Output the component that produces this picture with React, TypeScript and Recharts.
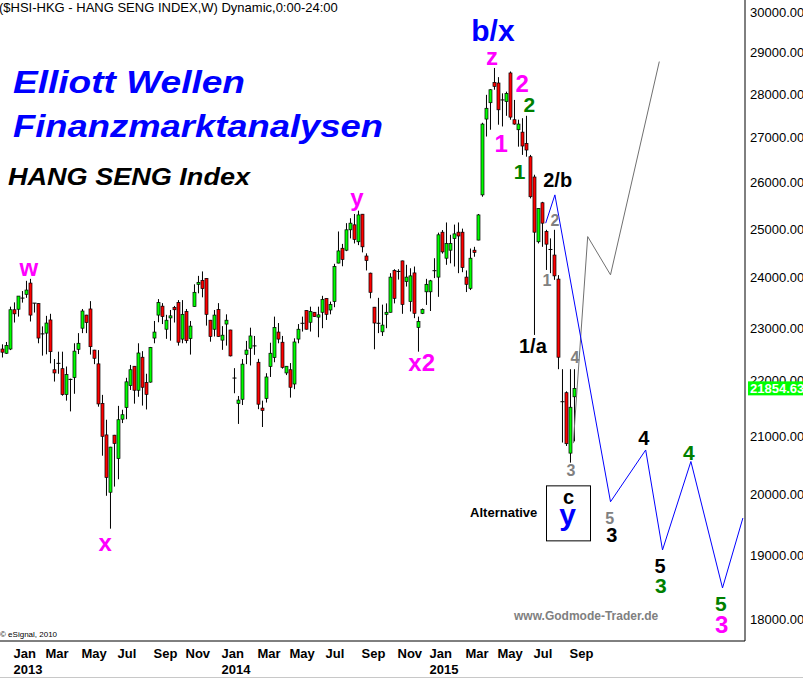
import React from "react";
import { Bar, ComposedChart, Line, ReferenceDot, XAxis, YAxis } from "recharts";

const FONT = "'Liberation Sans', Arial, Helvetica, sans-serif";

// weekly candles, Dec 2012 .. Sep 2015
const opens = [
  22590, 22510, 22590, 23350, 23360, 23580, 23655, 23880, 23480, 23470, 22880, 22895, 23150, 22200, 22320, 22220,
  21740, 22020, 22055, 22585, 22990, 23245, 23365, 22570, 22310, 21580, 21015, 20025, 21010, 20600, 21295, 21505,
  21905, 22265, 21820, 22435, 21960, 21970, 22800, 23245, 23420, 22970, 23190, 23395, 23495, 22780, 23315, 22790,
  23415, 23855, 23935, 23975, 23145, 22970, 23355, 22760, 23070, 22955, 22045, 21580, 21655, 22490, 22605, 22650,
  22340, 21495, 21670, 22260, 22430, 22915, 22720, 22140, 22200, 21935, 22780, 23085, 23335, 23105, 23300, 23205,
  23300, 23575, 23345, 23510, 24285, 24590, 24550, 24975, 25080, 24725, 25305, 24430, 24080, 23400, 23085, 22920,
  23260, 23300, 24135, 24115, 24330, 23910, 23510, 24085, 23005, 23280, 23705, 23705, 24130, 24000, 24925, 24385,
  24550, 24790, 24925, 24925, 24000, 23775, 24550, 24760, 25720, 27415, 27795, 28275, 28260, 27860, 27820, 28500,
  27400, 27170, 27115, 26860, 26560, 26110, 24725, 25550, 24940, 24565, 24450, 23960, 21610, 21775, 20695, 21700,
];
const highs = [
  22680, 22725, 23410, 23495, 23620, 23720, 23925, 23965, 23480, 23480, 23025, 23230, 23270, 22400, 22540, 22540,
  22260, 22035, 22700, 22895, 23365, 23250, 23520, 22575, 22570, 21735, 21285, 20805, 21015, 21535, 21465, 22050,
  22290, 22270, 22700, 22550, 22125, 22630, 23130, 23560, 23480, 23250, 23345, 23425, 23540, 23540, 23365, 23130,
  23855, 24025, 24115, 23980, 23150, 23345, 23480, 23030, 23260, 22960, 22230, 21715, 22400, 22745, 23000, 22840,
  22405, 21630, 22135, 22710, 23215, 23090, 22840, 22270, 22325, 22795, 23070, 23215, 23340, 23410, 23305, 23410,
  23625, 23580, 23510, 24270, 24940, 24680, 25115, 25220, 25310, 25380, 25310, 24485, 24090, 23405, 23585, 23450,
  23475, 24080, 24160, 24160, 24335, 24250, 24180, 24215, 23215, 23375, 23965, 23945, 24385, 24915, 24970, 25130,
  24870, 25085, 25130, 25000, 24135, 24585, 24620, 25310, 27330, 27980, 28115, 28620, 28400, 28015, 28055, 28535,
  27860, 27400, 27435, 27490, 26600, 26160, 25435, 25570, 24975, 24795, 24975, 24040, 22210, 21800, 22210, 22210,
];
const lows = [
  22430, 22500, 22570, 23100, 23215, 23490, 23585, 23120, 23295, 22700, 22465, 22490, 22320, 21980, 22125, 21720,
  21630, 21435, 21755, 22495, 22895, 22895, 22485, 22305, 21520, 20650, 19965, 19420, 20120, 20245, 21225, 21295,
  21825, 21575, 21700, 21540, 21470, 21960, 22700, 23105, 23070, 22785, 22750, 23100, 22655, 22700, 22700, 22485,
  23410, 23675, 23595, 23040, 22730, 22830, 22825, 22575, 22655, 22450, 21765, 21210, 21550, 22305, 22280, 22480,
  21475, 21155, 21595, 22065, 22340, 22700, 22220, 22100, 21685, 21840, 22700, 22925, 22965, 22925, 23210, 22815,
  22990, 23150, 23260, 23400, 24280, 24220, 24530, 24795, 24690, 24655, 24505, 24135, 23575, 22585, 22895, 22840,
  22990, 23295, 23475, 23950, 23270, 23810, 23315, 23185, 22540, 23265, 23445, 23325, 23980, 23605, 24480, 24250,
  24280, 24215, 24080, 24100, 23700, 23740, 24415, 24755, 25680, 27015, 27170, 28100, 27285, 27245, 27490, 27400,
  27285, 26785, 26600, 26560, 25645, 22860, 24690, 24620, 24145, 24080, 23945, 22210, 20880, 20820, 20530, 20900,
];
const closes = [
  22530, 22660, 23350, 23270, 23620, 23590, 23740, 23245, 23470, 22800, 22890, 23090, 22540, 22140, 22330, 21740,
  22110, 22030, 22550, 22700, 23325, 23100, 22635, 22415, 21570, 20990, 20275, 20800, 20865, 21285, 21375, 21975,
  22200, 21820, 22515, 21875, 21745, 22620, 22915, 23495, 23215, 23145, 23230, 23350, 22720, 23260, 22750, 23030,
  23695, 23895, 23770, 23260, 22830, 23245, 22830, 22855, 23145, 22460, 22040, 21640, 22305, 22570, 22840, 22655,
  21565, 21450, 22065, 22510, 23005, 22780, 22245, 22265, 21875, 22725, 22970, 23090, 22970, 23315, 23215, 23250,
  23555, 23260, 23455, 24215, 24535, 24360, 24975, 25115, 24775, 25290, 24620, 24335, 23695, 23090, 23090, 23050,
  23300, 24000, 23575, 24125, 23455, 24000, 24025, 23280, 23120, 23355, 23855, 23925, 24135, 24870, 24515, 24690,
  24690, 24890, 24845, 24195, 23855, 24385, 24505, 25290, 27300, 27665, 28100, 28180, 27630, 27855, 28015, 27460,
  27300, 27300, 26800, 26710, 25680, 24925, 25430, 25115, 24675, 24560, 24025, 22435, 21600, 20860, 21510, 21854.631,
];

// x axis: bar index of the first week of each labelled month
const monthTicks = [3, 11, 20, 29, 38, 46, 55, 64, 72, 81, 90, 99, 107, 116, 124, 133, 142];
const monthNames = ["Jan", "Mar", "May", "Jul", "Sep", "Nov", "Jan", "Mar", "May", "Jul", "Sep", "Nov", "Jan", "Mar", "May", "Jul", "Sep"];
const yearNames = ["2013", "", "", "", "", "", "2014", "", "", "", "", "", "2015", "", "", "", ""];

const priceTicks = [18000, 19000, 20000, 21000, 22000, 23000, 24000, 25000, 26000, 27000, 28000, 29000, 30000];

// projected paths
const bluePathIdx = [135.8, 138.1, 152, 160.8, 165, 172.1, 180, 185.1];
const bluePathVal = [25115, 25720, 19865, 20750, 19075, 20550, 18475, 19595];
const grayPathIdx = [142.7, 146.3, 152, 164.2];
const grayPathVal = [20870, 24833, 24046, 28775];

// wave counts
const waveText = ["w", "x", "y", "x2", "z", "b/x", "2", "2", "1", "1", "2/b", "2", "1", "1/a", "4", "3", "5", "3", "4", "5", "3", "4", "5", "3", "Alternative"];
const waveIdx = [6.6, 25.7, 88.6, 104.8, 122.4, 122.6, 129.9, 131.7, 124.7, 129.3, 138.8, 138.1, 136.1, 132.6, 143.1, 142.1, 151.8, 152.3, 160.3, 164.4, 164.6, 171.6, 179.6, 179.8, 125.3];
const waveVal = [24187, 19188, 25653, 22329, 28900, 29527, 28242, 27743, 26846, 26225, 26049, 25164, 23925, 22648, 22422, 20390, 19581, 19319, 20956, 18812, 18509, 20698, 18227, 17910, 19680];
const waveDegree = ["magenta", "magenta", "magenta", "magenta", "magenta", "blue", "magenta", "green", "magenta", "green", "black", "gray", "gray", "black", "gray", "gray", "gray", "black", "black", "black", "green", "green", "green", "magenta", "note"];

const altBoxIdx = 141.5;
const altBoxVal = 19672;

const degreeStyle: Record<string, { fill: string; size: number }> = {
  magenta: { fill: "#ff00ff", size: 24 },
  blue: { fill: "#0000ff", size: 30 },
  green: { fill: "#008000", size: 21 },
  black: { fill: "#000000", size: 20 },
  gray: { fill: "#808080", size: 16 },
  note: { fill: "#000000", size: 13 },
};

const candles = opens.map((o, k) => ({ i: k, open: o, high: highs[k], low: lows[k], close: closes[k] }));
const blueLine = bluePathIdx.map((i, k) => ({ i, v: bluePathVal[k] }));
const grayLine = grayPathIdx.map((i, k) => ({ i, v: grayPathVal[k] }));
const lastClose = closes[closes.length - 1];

const X_MIN = -0.625;
const X_MAX = 185.625;

const Candle = (props: any) => {
  const { x, y, width, height, payload } = props;
  if (!payload || height == null) return null;
  const cx = x + width / 2;
  const lh = Math.log(payload.high);
  const span = lh - Math.log(payload.low);
  const py = (v: number) => (span > 0 ? y + ((lh - Math.log(v)) / span) * height : y);
  const yo = py(payload.open);
  const yc = py(payload.close);
  const top = Math.min(yo, yc);
  const bh = Math.abs(yc - yo);
  const up = payload.close >= payload.open;
  return (
    <g>
      <line x1={cx} x2={cx} y1={y} y2={y + height} stroke="#000" strokeWidth={1} />
      {bh < 1.2 ? (
        <line x1={cx - 2} x2={cx + 2} y1={yo} y2={yo} stroke="#000" strokeWidth={1} />
      ) : (
        <rect x={cx - 1.5} y={top} width={3} height={bh} fill={up ? "#00ff00" : "#ff0000"} stroke="#000" strokeWidth={0.7} />
      )}
    </g>
  );
};

const MonthTick = (props: any) => {
  const { x, y, payload } = props;
  const k = monthTicks.indexOf(payload.value);
  return (
    <g fontFamily={FONT} fontWeight="bold" fontSize={13} fill="#000">
      <text x={x - 1} y={y + 15}>{monthNames[k]}</text>
      {yearNames[k] ? <text x={x - 1} y={y + 31}>{yearNames[k]}</text> : null}
    </g>
  );
};

// the last close is the final tick, so its green marker is drawn over the 22000 label
const PriceTick = (props: any) => {
  const { x, y, payload } = props;
  if (payload.value === lastClose) {
    return (
      <g>
        <rect x={x + 1} y={y - 7} width={60} height={14} fill="#00ff00" />
        <text x={x + 3} y={y + 5} fontFamily={FONT} fontWeight="bold" fontSize={13} fill="#fff">
          {lastClose.toFixed(3)}
        </text>
      </g>
    );
  }
  return (
    <text x={x + 3} y={y + 5} fontFamily={FONT} fontSize={13} fill="#000">
      {Number(payload.value).toFixed(2)}
    </text>
  );
};

const App = () => {
  return (
    <div style={{ position: "absolute", left: 0, top: 0, width: 803, height: 678, background: "#fff", overflow: "hidden" }}>
      <ComposedChart width={803} height={678} data={candles} margin={{ top: 0, right: 0, bottom: 0, left: 0 }}>
        <XAxis
          type="number"
          dataKey="i"
          domain={[X_MIN, X_MAX]}
          allowDataOverflow
          ticks={monthTicks}
          interval={0}
          tick={MonthTick}
          tickLine={false}
          tickSize={0}
          axisLine={{ stroke: "#000" }}
          height={37}
        />
        <YAxis
          orientation="right"
          type="number"
          scale="log"
          domain={[17668, 30305]}
          allowDataOverflow
          ticks={[...priceTicks, lastClose]}
          interval={0}
          tick={PriceTick}
          tickLine={false}
          tickSize={0}
          axisLine={{ stroke: "#000" }}
          width={58}
        />
        <Bar dataKey={(d: any) => [d.low, d.high]} barSize={3} shape={Candle} isAnimationActive={false} />
        <Line data={grayLine} dataKey="v" type="linear" stroke="#707070" strokeWidth={1} dot={false} activeDot={false} isAnimationActive={false} />
        <Line data={blueLine} dataKey="v" type="linear" stroke="#0000ff" strokeWidth={1} dot={false} activeDot={false} isAnimationActive={false} />
        {waveText.map((t, k) => {
          const st = degreeStyle[waveDegree[k]];
          return (
            <ReferenceDot
              key={k}
              x={waveIdx[k]}
              y={waveVal[k]}
              r={0}
              ifOverflow="visible"
              shape={(p: any) => (
                <text
                  x={p.cx}
                  y={p.cy}
                  textAnchor="middle"
                  dominantBaseline="central"
                  fontFamily={FONT}
                  fontWeight="bold"
                  fontSize={st.size}
                  fill={st.fill}
                >
                  {t}
                </text>
              )}
            />
          );
        })}
        <ReferenceDot
          x={altBoxIdx}
          y={altBoxVal}
          r={0}
          ifOverflow="visible"
          shape={(p: any) => (
            <g fontFamily={FONT} fontWeight="bold" textAnchor="middle">
              <rect x={p.cx - 22} y={p.cy - 27.5} width={44} height={55} fill="#fff" stroke="#000" strokeWidth={1} />
              <text x={p.cx} y={p.cy - 9.5} fontSize={20} fill="#000">c</text>
              <text x={p.cx - 1} y={p.cy + 12} fontSize={30} fill="#0000ff">y</text>
            </g>
          )}
        />
      </ComposedChart>
      <svg width={803} height={678} style={{ position: "absolute", left: 0, top: 0, pointerEvents: "none" }}>
        <text x={-1} y={12} fontFamily={FONT} fontSize={13} fill="#000">
          ($HSI-HKG - HANG SENG INDEX,W) Dynamic,0:00-24:00
        </text>
        <g fontFamily={FONT} fontWeight="bold" fontStyle="italic">
          <text x={13} y={93} fontSize={32} fill="#0000ff" textLength={232} lengthAdjust="spacingAndGlyphs">
            Elliott Wellen
          </text>
          <text x={13} y={137} fontSize={32} fill="#0000ff" textLength={370} lengthAdjust="spacingAndGlyphs">
            Finanzmarktanalysen
          </text>
          <text x={8} y={185} fontSize={24} fill="#000" textLength={242} lengthAdjust="spacingAndGlyphs">
            HANG SENG Index
          </text>
        </g>
        <text x={514} y={620} fontFamily={FONT} fontWeight="bold" fontSize={12} fill="#808080">
          www.Godmode-Trader.de
        </text>
        <text x={0} y={637} fontFamily={FONT} fontSize={8} fill="#000">
          © eSignal, 2010
        </text>
        <line x1={0} x2={803} y1={677.5} y2={677.5} stroke="#c8c8c8" strokeWidth={1} />
      </svg>
    </div>
  );
};

export default App;
